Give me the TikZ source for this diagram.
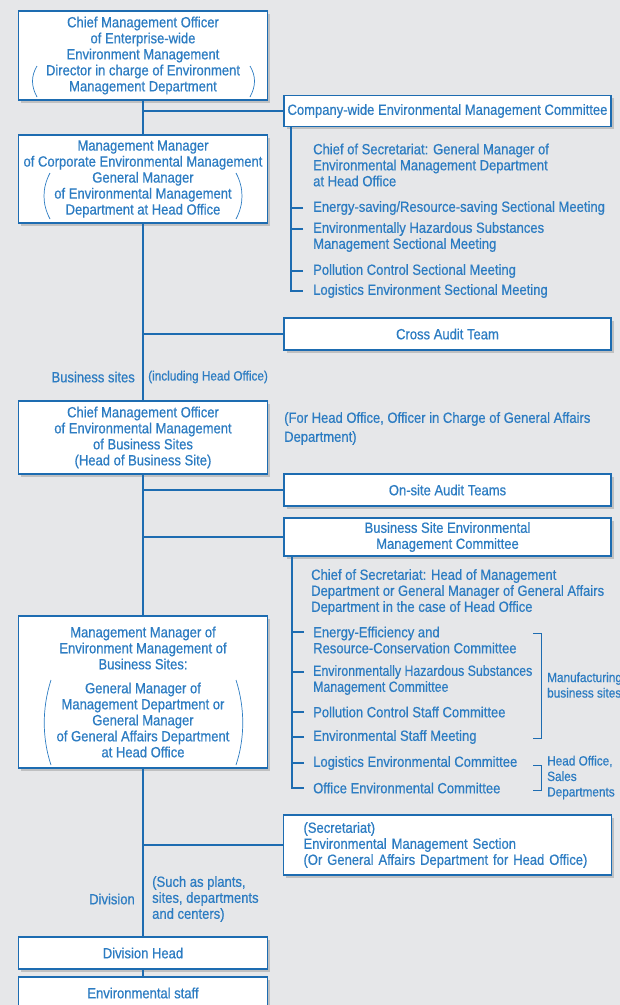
\documentclass[tikz,border=0pt]{standalone}
\usepackage{fontspec}
\setmainfont{Liberation Sans}[FakeStretch=0.88,FakeBold=0.6]
\newfontfamily\narrowsans{Liberation Sans}[FakeStretch=0.835,FakeBold=0.6]
\usetikzlibrary{shadows}
\definecolor{bg}{HTML}{E6E7E9}
\definecolor{ln}{HTML}{1D6CB1}
\definecolor{tx}{HTML}{2C7CC2}
\begin{document}
\begin{tikzpicture}[x=1pt,y=-1pt,
  font=\fontsize{14.8}{16}\selectfont,
  box/.style={draw=ln, line width=1.8pt, fill=white, text=tx, align=center, inner sep=0pt,
    drop shadow={shadow xshift=2.5pt, shadow yshift=-2.5pt, opacity=0.25, fill=black!70}},
  wbox/.style={box, minimum width=249pt},
  rbox/.style={box, minimum width=327pt},
  lbl/.style={text=tx, align=left, inner sep=0pt, anchor=west},
  small/.style={font=\fontsize{13.4}{15.5}\selectfont},
  conn/.style={draw=ln, line width=1.6pt},
  brk/.style={draw=ln, line width=0.9pt},
  paren/.style={draw=tx, line width=0.7pt}]
\useasboundingbox (0,0) rectangle (620,1005);
\clip (0,0) rectangle (620,1005);
\fill[bg] (0,0) rectangle (620,1005);

% ---------- main column boxes ----------
\node[wbox, minimum height=89pt] (b1) at (143,55.5) {Chief Management Officer\\of Enterprise-wide\\Environment Management\\Director in charge of Environment\\Management Department};
\node[wbox, minimum height=88pt] (b2) at (143,179) {Management Manager\\of Corporate Environmental Management\\General Manager\\of Environmental Management\\Department at Head Office};
\node[wbox, minimum height=73pt] (b3) at (143,437.5) {Chief Management Officer\\of Environmental Management\\of Business Sites\\(Head of Business Site)};
\node[wbox, minimum height=152pt] (b4) at (143,692) {Management Manager of\\Environment Management of\\Business Sites:\\[8pt]General Manager of\\Management Department or\\General Manager\\of General Affairs Department\\at Head Office};
\node[wbox, minimum height=32pt] (dh) at (143,953) {Division Head};
\node[wbox, minimum height=32pt] (es) at (143,993) {Environmental staff};

% parentheses
\draw[paren] (37,66) .. controls (31,76) and (31,86) .. (37,97);
\draw[paren] (250,66) .. controls (256,76) and (256,86) .. (250,97);
\draw[paren] (50,173) .. controls (42,188) and (42,204) .. (50,219);
\draw[paren] (236,173) .. controls (244,188) and (244,204) .. (236,219);
\draw[paren] (51,680) .. controls (42,708) and (42,738) .. (51,765);
\draw[paren] (236,680) .. controls (245,708) and (245,738) .. (236,765);

% ---------- right column boxes ----------
\node[rbox, minimum height=31pt] (cw) at (447.5,111) {Company-wide Environmental Management Committee};
\node[rbox, minimum height=32pt] (cross) at (447.5,334) {Cross Audit Team};
\node[rbox, minimum height=32pt] (onsite) at (447.5,490) {On-site Audit Teams};
\node[rbox, minimum height=38pt] (bsemc) at (447.5,537) {Business Site Environmental\\Management Committee};
\node[rbox, minimum height=60pt, text width=288pt, inner xsep=20pt, align=left] (sec) at (447.5,845) {(Secretariat)\\Environmental Management Section\\(Or General Affairs Department for Head Office)};

% ---------- company-wide committee members ----------
\node[lbl] (cs1) at (313,165) {Chief of Secretariat: General Manager of\\Environmental Management Department\\at Head Office};
\node[lbl] (m1) at (313,208) {Energy-saving/Resource-saving Sectional Meeting};
\node[lbl] (m2) at (313,237) {Environmentally Hazardous Substances\\Management Sectional Meeting};
\node[lbl] (m3) at (313,271) {Pollution Control Sectional Meeting};
\node[lbl] (m4) at (313,291) {Logistics Environment Sectional Meeting};
\coordinate (v1) at (291,127);
\coordinate (t1) at (303,208);
\coordinate (t2) at (303,229);
\coordinate (t3) at (303,271);
\coordinate (t4) at (303,291);
\draw[conn] (v1) -- (v1 |- t4) -- (t4);
\draw[conn] (t1) -- (t1 -| v1);
\draw[conn] (t2) -- (t2 -| v1);
\draw[conn] (t3) -- (t3 -| v1);

% ---------- labels on main line ----------
\node[lbl, anchor=east] (bsl) at (135,377) {Business sites};
\node[lbl, small] (incl) at (148,377) {(including Head Office)};
\node[lbl, font=\fontsize{14.8}{19}\selectfont] (forho) at (284,428.5) {(For Head Office, Officer in Charge of General Affairs\\Department)};
\node[lbl, anchor=east] (divl) at (135,899) {Division};
\node[lbl] (such) at (152,899) {(Such as plants,\\sites, departments\\and centers)};

% ---------- business site committee members ----------
\node[lbl] (cs2) at (311,592) {Chief of Secretariat: Head of Management\\Department or General Manager of General Affairs\\Department in the case of Head Office};
\node[lbl] (e1) at (313,640) {Energy-Efficiency and\\Resource-Conservation Committee};
\node[lbl, font=\narrowsans\fontsize{14.8}{16}\selectfont] (e2) at (313,680) {Environmentally Hazardous Substances\\Management Committee};
\node[lbl] (e3) at (313,712) {Pollution Control Staff Committee};
\node[lbl] (e4) at (313,737) {Environmental Staff Meeting};
\node[lbl] (e5) at (313,763) {Logistics Environmental Committee};
\node[lbl] (e6) at (313,788) {Office Environmental Committee};
\coordinate (v2) at (292,556);
\coordinate (u1) at (304,632);
\coordinate (u2) at (304,672);
\coordinate (u3) at (304,712);
\coordinate (u4) at (304,737);
\coordinate (u5) at (304,763);
\coordinate (u6) at (304,788);
\draw[conn] (v2) -- (v2 |- u6) -- (u6);
\foreach \u in {u1,u2,u3,u4,u5} \draw[conn] (\u) -- (\u -| v2);

% brackets
\coordinate (k1a) at (533,633);
\coordinate (k1b) at (533,738);
\coordinate (k2a) at (533,765);
\coordinate (k2b) at (533,790);
\draw[brk] (k1a) -- ++(8,0) |- (k1b);
\draw[brk] (k2a) -- ++(8,0) |- (k2b);
\node[lbl, small] (manu) at (547,685) {Manufacturing\\business sites};
\node[lbl, small] (hosd) at (547,777.5) {Head Office,\\Sales\\Departments};

% ---------- main line ----------
\draw[conn] (b1) -- (b2);
\draw[conn] (b2) -- (b3);
\draw[conn] (b3) -- (b4);
\draw[conn] (b4) -- (dh);
\draw[conn] (dh) -- (es);
\draw[conn] (cw.west) -- (cw.west -| b1.south);
\draw[conn] (cross.west) -- (cross.west -| b1.south);
\draw[conn] (onsite.west) -- (onsite.west -| b1.south);
\draw[conn] (bsemc.west) -- (bsemc.west -| b1.south);
\draw[conn] (sec.west) -- (sec.west -| b1.south);
\end{tikzpicture}
\end{document}
